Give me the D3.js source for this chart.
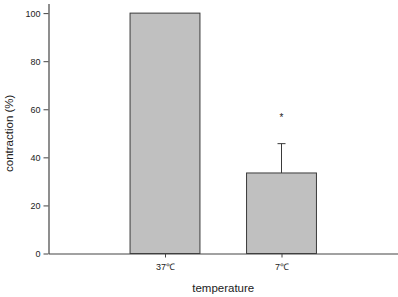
<html>
<head>
    <script src="https://d3js.org/d3.v7.min.js"></script>
    <style>
        body { margin: 0; background: #fff; }
        text { font-family: "Liberation Sans", Arial, sans-serif; fill: #222; }
    </style>
</head>
<body>
    <svg id="barchart" width="398" height="297"></svg>
    <script>
        // data
        const categories = ["37℃", "7℃"];
        const values = [100, 33.5];
        const errors = [0, 12.2];
        const marks = ["", "*"];
        const yTicks = [0, 20, 40, 60, 80, 100];

        const svg = d3.select("svg#barchart");
        const margin = { top: 3.5, right: 0, bottom: 43.5, left: 48.5 };
        const width = +svg.attr("width");
        const height = +svg.attr("height");
        const chartWidth = width - margin.left - margin.right;
        const chartHeight = height - margin.top - margin.bottom;

        // four slots along x, the bars sit in the two middle ones
        const xScale = d3.scalePoint().domain(["", ...categories, " "]).range([0, chartWidth]);
        const yScale = d3.scaleLinear().domain([0, 104]).range([chartHeight, 0]);
        const barWidth = xScale.step() * 0.6;

        const chart = svg.append("g").attr("transform", `translate(${margin.left},${margin.top})`);

        // bars
        chart.selectAll("rect.bar")
            .data(values)
            .join("rect")
            .attr("class", "bar")
            .attr("x", (d, i) => xScale(categories[i]) - barWidth / 2)
            .attr("y", d => yScale(d))
            .attr("width", barWidth)
            .attr("height", d => chartHeight - yScale(d))
            .attr("fill", "#c0c0c0")
            .attr("stroke", "#3a3a3a")
            .attr("stroke-width", 1);

        // error bars (upper only)
        const err = chart.selectAll("g.err")
            .data(values.map((v, i) => ({ v, e: errors[i], c: categories[i], m: marks[i] })).filter(d => d.e > 0))
            .join("g")
            .attr("class", "err")
            .attr("stroke", "#3a3a3a");
        err.append("line")
            .attr("x1", d => xScale(d.c)).attr("x2", d => xScale(d.c))
            .attr("y1", d => yScale(d.v)).attr("y2", d => yScale(d.v + d.e));
        err.append("line")
            .attr("x1", d => xScale(d.c) - 4).attr("x2", d => xScale(d.c) + 4)
            .attr("y1", d => yScale(d.v + d.e)).attr("y2", d => yScale(d.v + d.e));
        err.append("text")
            .attr("x", d => xScale(d.c))
            .attr("y", d => yScale(d.v + d.e) - 23)
            .attr("text-anchor", "middle")
            .attr("font-size", 10)
            .attr("stroke", "none")
            .text(d => d.m);

        // axes
        const leftAxis = d3.axisLeft(yScale).tickValues(yTicks).tickSize(5).tickPadding(3).tickSizeOuter(0);
        const bottomAxis = d3.axisBottom(xScale).tickValues(categories).tickSize(4).tickPadding(6).tickSizeOuter(0);

        const yAxis = chart.append("g").call(leftAxis);
        const xAxis = chart.append("g").attr("transform", `translate(0,${chartHeight})`).call(bottomAxis);

        [yAxis, xAxis].forEach(a => {
            a.select(".domain").attr("stroke", "#444").attr("stroke-width", 1.2);
            a.selectAll(".tick line").attr("stroke", "#444");
            a.selectAll(".tick text").attr("font-size", 9).attr("fill", "#222")
                .style("font-family", "'Liberation Sans', Arial, sans-serif");
        });

        // axis titles
        svg.append("text")
            .attr("x", margin.left + (xScale(categories[0]) + xScale(categories[1])) / 2)
            .attr("y", 292)
            .attr("text-anchor", "middle")
            .attr("font-size", 11.5)
            .text("temperature");

        svg.append("text")
            .attr("transform", `translate(13,${margin.top + yScale(50)}) rotate(-90)`)
            .attr("text-anchor", "middle")
            .attr("font-size", 11.5)
            .text("contraction (%)");
    </script>
</body>
</html>
